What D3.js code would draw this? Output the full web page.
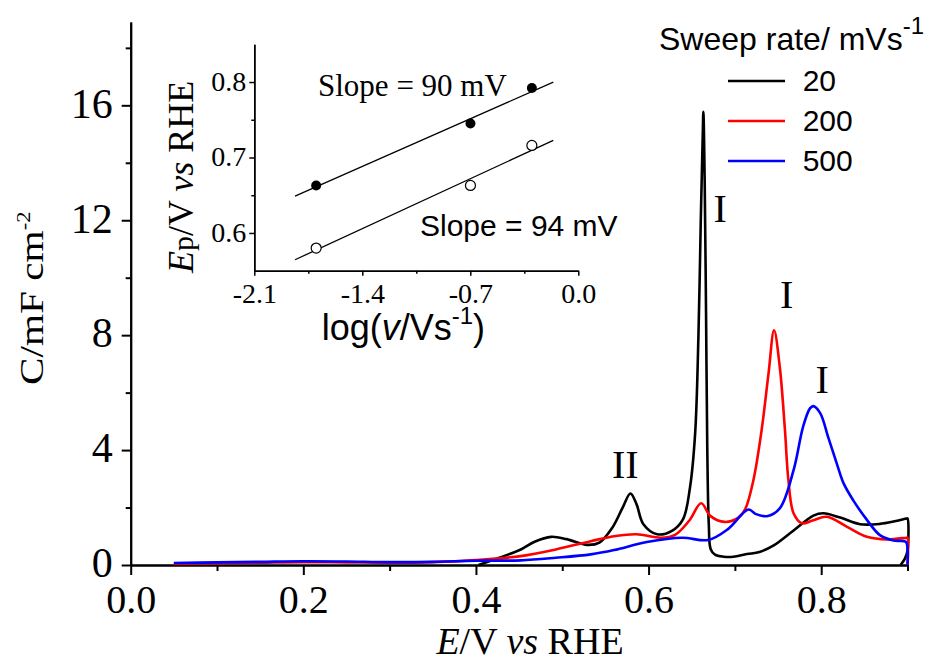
<!DOCTYPE html>
<html><head><meta charset="utf-8">
<script src="https://cdn.jsdelivr.net/npm/d3@7"></script>
<style>body{margin:0;background:#fff}svg{display:block}</style>
</head><body>
<svg id="chart" width="930" height="662"></svg>
<script>
// ---------- data ----------
const seriesNames = ["20", "200", "500"];
const seriesColors = ["#000000", "#ff0000", "#0000ff"];

const E20 = [0.403,0.427,0.452,0.468,0.487,0.505,0.529,0.543,0.558,0.570,0.579,0.586,0.594,0.610,0.627,0.640,0.648,0.654,0.6578,0.6605,0.6628,0.6635,0.665,0.6666,0.668,0.6698,0.672,0.677,0.687,0.696,0.714,0.7285,0.745,0.768,0.791,0.8026,0.822,0.845,0.868,0.885,0.899,0.900,0.900,0.897,0.892];
const C20 = [0.00,0.25,0.54,0.81,0.98,0.90,0.70,0.78,1.30,2.00,2.49,2.12,1.42,1.07,1.19,1.60,2.70,4.60,8.00,12.0,15.0,15.77,13.4,8.75,4.10,1.40,0.55,0.36,0.29,0.28,0.38,0.45,0.68,1.20,1.72,1.80,1.65,1.42,1.43,1.52,1.62,1.62,0.50,0.22,0.00];

const E200 = [0.05,0.10,0.15,0.20,0.25,0.30,0.35,0.40,0.452,0.4925,0.533,0.562,0.586,0.6145,0.6307,0.647,0.661,0.6715,0.688,0.704,0.712,0.7215,0.731,0.739,0.7454,0.752,0.758,0.762,0.768,0.7775,0.790,0.8065,0.830,0.853,0.876,0.899,0.900,0.900];
const C200 = [0.04,0.06,0.08,0.10,0.09,0.08,0.10,0.17,0.31,0.54,0.83,1.01,1.07,0.95,1.05,1.54,2.15,1.71,1.50,1.65,1.95,2.96,4.70,6.67,8.17,6.90,4.70,2.96,1.80,1.45,1.55,1.68,1.33,0.98,0.89,0.95,0.95,0.00];

const E500 = [0.05,0.10,0.15,0.20,0.25,0.30,0.35,0.40,0.452,0.4925,0.533,0.560,0.598,0.639,0.669,0.692,0.7157,0.7245,0.737,0.752,0.768,0.779,0.787,0.791,0.799,0.808,0.818,0.826,0.837,0.853,0.868,0.884,0.898,0.900,0.900];
const C500 = [0.07,0.09,0.11,0.13,0.12,0.10,0.11,0.15,0.16,0.25,0.37,0.52,0.80,0.95,0.87,1.25,1.93,1.77,1.70,1.97,3.30,4.81,5.45,5.53,5.28,4.46,3.54,2.84,2.26,1.57,1.04,0.85,0.81,0.60,0.00];

const xTicks = [0, 0.2, 0.4, 0.6, 0.8];
const xMinor = [0.1, 0.3, 0.5, 0.7, 0.9];
const yTicks = [0, 4, 8, 12, 16];
const yMinor = [2, 6, 10, 14, 18];

const peakText = ["I", "I", "I", "II"];
const peakE = [0.683, 0.760, 0.801, 0.573];
const peakC = [11.93, 8.94, 5.98, 3.03];

// inset
const insetLogV = [-1.699, -0.699, -0.301];
const insetEpFilled = [0.663, 0.745, 0.792];
const insetEpOpen = [0.580, 0.663, 0.716];
const fitRange = [-1.836, -0.162];
const insetXTicks = [-2.1, -1.4, -0.7, 0.0];
const insetXMinor = [-1.75, -1.05, -0.35];
const insetYTicks = [0.6, 0.7, 0.8];
const insetYMinor = [0.65, 0.75];

// ---------- drawing ----------
const svg = d3.select("#chart");
const serif = "'Liberation Serif','Times New Roman',serif";
const sans = "'Liberation Sans',Arial,sans-serif";

const x = d3.scaleLinear().domain([0, 0.9]).range([130.7, 907.5]);
const y = d3.scaleLinear().domain([0, 18.9]).range([565, 22]);

function styleAxis(g, w, font, size) {
  g.select(".domain").attr("stroke", "#000").attr("stroke-width", w);
  g.selectAll(".tick line").attr("stroke", "#000").attr("stroke-width", w);
  g.selectAll(".tick text").attr("fill", "#000").style("font-family", font).style("font-size", size + "px");
}

// main axes
const gx = svg.append("g").attr("transform", "translate(0,565)");
gx.call(d3.axisBottom(x).tickValues(xMinor).tickSize(6).tickSizeOuter(0).tickFormat(""));
styleAxis(gx, 2, serif, 40);
const gx2 = svg.append("g").attr("transform", "translate(0,565)");
gx2.call(d3.axisBottom(x).tickValues(xTicks).tickSize(10).tickSizeOuter(0).tickPadding(9.6).tickFormat(d => d.toFixed(1)));
styleAxis(gx2, 2, serif, 40);

const gy = svg.append("g").attr("transform", "translate(130.7,0)");
gy.call(d3.axisLeft(y).tickValues(yMinor).tickSize(5).tickSizeOuter(0).tickFormat(""));
styleAxis(gy, 2, serif, 42);
const gy2 = svg.append("g").attr("transform", "translate(130.7,0)");
gy2.call(d3.axisLeft(y).tickValues(yTicks).tickSize(9).tickSizeOuter(0).tickPadding(9).tickFormat(d3.format("d")));
styleAxis(gy2, 2, serif, 42);
gy2.selectAll(".tick text").attr("dy", "0.28em");

// axis titles
const xt = svg.append("text").attr("x", 530).attr("y", 654).attr("text-anchor", "middle")
  .style("font-family", serif).style("font-size", "38px").attr("fill", "#000");
xt.append("tspan").style("font-style", "italic").text("E");
xt.append("tspan").text("/V ");
xt.append("tspan").style("font-style", "italic").text("vs");
xt.append("tspan").text(" RHE");

const yt = svg.append("text").attr("transform", "translate(42.7,385) rotate(-90) scale(1.25,1)")
  .style("font-family", serif).style("font-size", "33px").attr("fill", "#000");
yt.append("tspan").text("C/mF cm");
yt.append("tspan").attr("dy", "-13").style("font-size", "18px").text("-2");

// curves
const line = d3.line().x(d => x(d[0])).y(d => y(d[1])).curve(d3.curveCatmullRom.alpha(0.5));
const series = [
  d3.zip(E20, C20),
  d3.zip(E200, C200),
  d3.zip(E500, C500)
];
series.forEach((s, i) => {
  svg.append("path").datum(s).attr("d", line).attr("fill", "none")
    .attr("stroke", seriesColors[i]).attr("stroke-width", 2.6).attr("stroke-linejoin", "round");
});

// peak labels
peakText.forEach((t, i) => {
  svg.append("text").attr("x", x(peakE[i])).attr("y", y(peakC[i])).attr("text-anchor", "middle")
    .style("font-family", serif).style("font-size", "40px").attr("fill", "#000").text(t);
});

// legend
svg.append("text").attr("x", 659).attr("y", 50).style("font-family", sans).style("font-size", "32px")
  .attr("fill", "#000").call(t => {
    t.append("tspan").text("Sweep rate/ mVs");
    t.append("tspan").attr("dy", -16).style("font-size", "24px").text("-1");
  });
seriesNames.forEach((n, i) => {
  const ly = 81 + i * 40;
  svg.append("line").attr("x1", 728).attr("x2", 785).attr("y1", ly).attr("y2", ly)
    .attr("stroke", seriesColors[i]).attr("stroke-width", 2.6);
  svg.append("text").attr("x", 802.7).attr("y", ly + 10).style("font-family", sans).style("font-size", "30px")
    .attr("fill", "#000").text(n);
});

// ---------- inset ----------
const ix = d3.scaleLinear().domain([-2.1, 0]).range([254.3, 578.3]);
const iy = d3.scaleLinear().domain([0.55, 0.85]).range([270.7, 44.3]);
const fmt1 = d => d.toFixed(1);

const ixa = svg.append("g").attr("transform", "translate(0,270.7)");
ixa.call(d3.axisBottom(ix).tickValues(insetXMinor).tickSize(3).tickSizeOuter(0).tickFormat(""));
styleAxis(ixa, 1.5, serif, 28);
const ixb = svg.append("g").attr("transform", "translate(0,270.7)");
ixb.call(d3.axisBottom(ix).tickValues(insetXTicks).tickSize(5).tickSizeOuter(0).tickPadding(7.7).tickFormat(fmt1));
styleAxis(ixb, 1.5, serif, 28);

const iya = svg.append("g").attr("transform", "translate(254.3,0)");
iya.call(d3.axisLeft(iy).tickValues(insetYMinor).tickSize(3).tickSizeOuter(0).tickFormat(""));
styleAxis(iya, 1.5, serif, 28);
const iyb = svg.append("g").attr("transform", "translate(254.3,0)");
iyb.call(d3.axisLeft(iy).tickValues(insetYTicks).tickSize(5).tickSizeOuter(0).tickPadding(3).tickFormat(fmt1));
styleAxis(iyb, 1.5, serif, 28);
iyb.selectAll(".tick text").attr("dy", "0.3em");

// regression fits
function fit(xs, ys) {
  const mx = d3.mean(xs), my = d3.mean(ys);
  let sxy = 0, sxx = 0;
  xs.forEach((v, i) => { sxy += (v - mx) * (ys[i] - my); sxx += (v - mx) * (v - mx); });
  const b = sxy / sxx, a = my - b * mx;
  return fitRange.map(v => [v, a + b * v]);
}
const iline = d3.line().x(d => ix(d[0])).y(d => iy(d[1]));
[insetEpFilled, insetEpOpen].forEach(ys => {
  svg.append("path").datum(fit(insetLogV, ys)).attr("d", iline)
    .attr("fill", "none").attr("stroke", "#000").attr("stroke-width", 1.3);
});
insetLogV.forEach((v, i) => {
  svg.append("circle").attr("cx", ix(v)).attr("cy", iy(insetEpFilled[i])).attr("r", 5).attr("fill", "#000");
  svg.append("circle").attr("cx", ix(v)).attr("cy", iy(insetEpOpen[i])).attr("r", 5)
    .attr("fill", "#fff").attr("stroke", "#000").attr("stroke-width", 1.2);
});

svg.append("text").attr("x", ix(-1.687)).attr("y", iy(0.782)).style("font-family", serif)
  .style("font-size", "31px").attr("fill", "#000").text("Slope = 90 mV");
svg.append("text").attr("x", ix(-1.026)).attr("y", iy(0.5955)).style("font-family", sans)
  .style("font-size", "30px").attr("fill", "#000").text("Slope = 94 mV");

// inset axis titles
const ixt = svg.append("text").attr("x", 321.7).attr("y", 340).style("font-family", sans)
  .style("font-size", "36px").attr("fill", "#000");
ixt.append("tspan").text("log(");
ixt.append("tspan").style("font-style", "italic").text("v");
ixt.append("tspan").text("/Vs");
ixt.append("tspan").attr("dy", -16).style("font-size", "24px").text("-1");
ixt.append("tspan").attr("dy", 16).text(")");

const iyt = svg.append("text").attr("transform", "translate(193,273) rotate(-90)")
  .style("font-family", serif).style("font-size", "36px").attr("fill", "#000");
iyt.append("tspan").style("font-style", "italic").text("E");
iyt.append("tspan").style("font-size", "30px").text("p");
iyt.append("tspan").text("/V ");
iyt.append("tspan").style("font-style", "italic").text("vs");
iyt.append("tspan").text(" RHE");
</script>
</body></html>
